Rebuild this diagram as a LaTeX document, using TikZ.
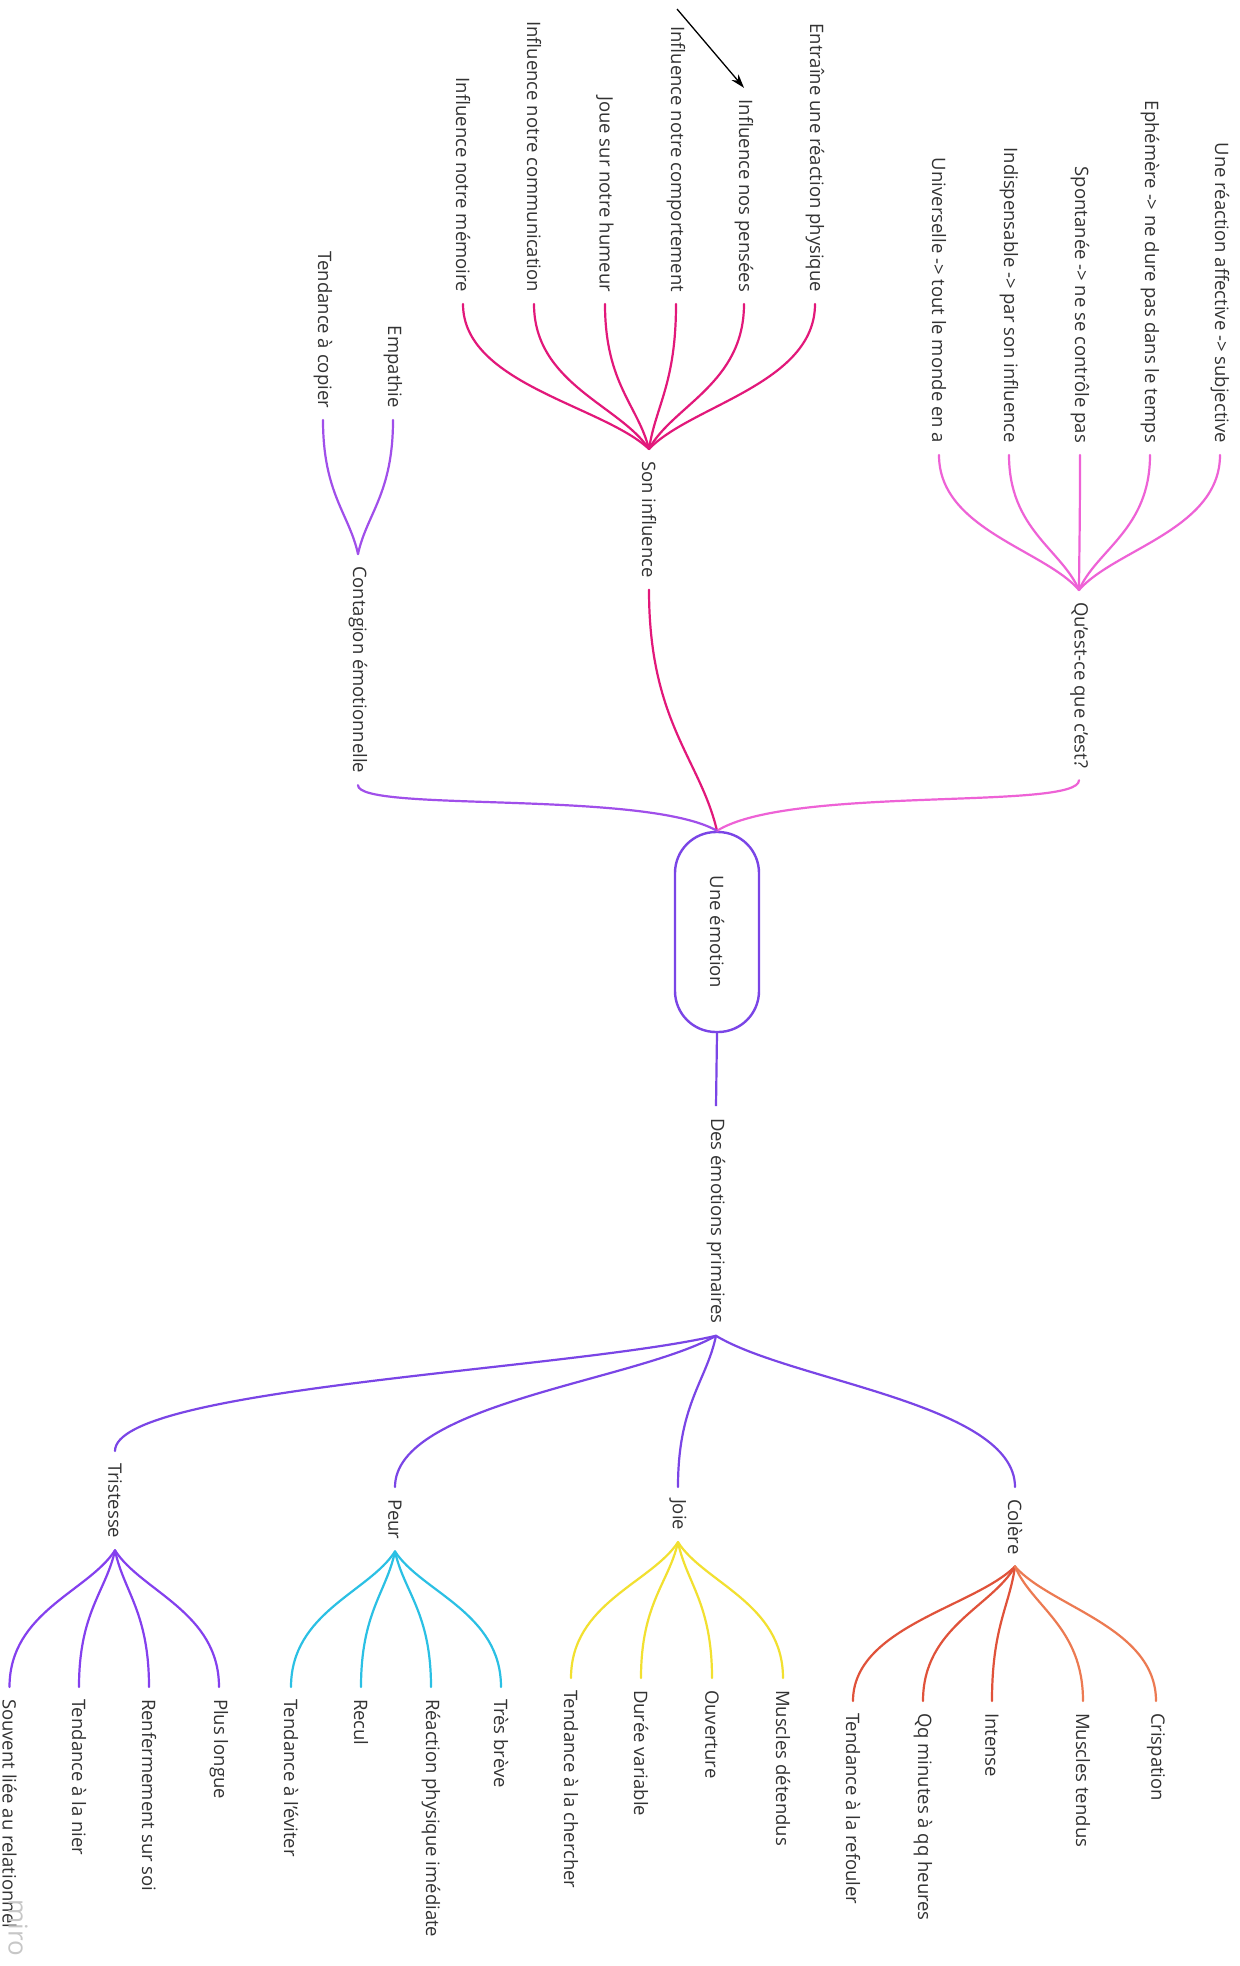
\documentclass[tikz,border=0pt]{standalone}
\usepackage{fontspec}
\setmainfont{Open Sans}
\usetikzlibrary{calc,arrows.meta}
\definecolor{cpurple}{HTML}{7A45E6}
\definecolor{ctris}{HTML}{8440EE}
\definecolor{ccrimson}{HTML}{E2187A}
\definecolor{cpink}{HTML}{EE62D6}
\definecolor{cviolet}{HTML}{A04FEA}
\definecolor{ccyan}{HTML}{2BC0E4}
\definecolor{cyellow}{HTML}{F2E030}
\definecolor{corange}{HTML}{E0523A}
\definecolor{corangeb}{HTML}{EC7A52}
\definecolor{ctext}{HTML}{333333}
\newcommand\myca{0.25}
\newcommand\mycb{0.3}
\newcommand\mycc{0.55}
\tikzset{
  ctrl/.code args={#1/#2/#3}{\def\myca{#1}\def\mycb{#2}\def\mycc{#3}},
  conn/.style={line width=2.2pt, line cap=round, ctrl=0.25/0.3/0.55,
    to path={let \p1=(\tikztostart), \p2=(\tikztotarget) in
      .. controls ({\x1+\myca*(\x2-\x1)},{\y1+\mycb*(\y2-\y1)}) and (\x2,{\y2-\mycc*(\y2-\y1)}) .. (\tikztotarget)}},
  txt/.style={rotate=-90, font=\fontsize{18.5}{22}\selectfont, text=ctext,
    inner xsep=0pt, inner ysep=1pt, outer xsep=12pt, outer ysep=0pt},
  up/.style={txt, anchor=east},
  down/.style={txt, anchor=west},
  rootbox/.style={rotate=-90, draw=cpurple, line width=2.4pt, fill=white,
    minimum width=200pt, minimum height=84pt, rounded corners=41pt, inner sep=0pt,
    font=\fontsize{18.5}{22}\selectfont, text=ctext},
}
\begin{document}
\begin{tikzpicture}[x=1pt,y=-1pt]
\useasboundingbox (0,0) rectangle (1240,1966);
\fill[white] (0,0) rectangle (1240,1966);

% root
\node[rootbox] (root) at (717,932) {Une émotion};

% main branch nodes
\node[down] (son) at (649,449) {Son influence};
\node[down] (quest) at (1079,590) {Qu'est-ce que c'est?};
\node[down] (cont) at (358,554) {Contagion émotionnelle};
\node[down] (des) at (716,1106) {Des émotions primaires};
\node[down] (trist) at (115,1451) {Tristesse};
\node[down] (peur) at (395,1487) {Peur};
\node[down] (joie) at (678,1487) {Joie};
\node[down] (colere) at (1015,1487) {Colère};

% Son influence children
\node[up] (s1) at (463,304) {Influence notre mémoire};
\node[up] (s2) at (534,304) {Influence notre communication};
\node[up] (s3) at (605,304) {Joue sur notre humeur};
\node[up] (s4) at (676,304) {Influence notre comportement};
\node[up] (s5) at (744,304) {Influence nos pensées};
\node[up] (s6) at (815,304) {Entraîne une réaction physique};

% Qu'est-ce children
\node[up] (q1) at (939,455) {Universelle -> tout le monde en a};
\node[up] (q2) at (1009,455) {Indispensable -> par son influence};
\node[up] (q3) at (1080,455) {Spontanée -> ne se contrôle pas};
\node[up] (q4) at (1150,455) {Ephémère -> ne dure pas dans le temps};
\node[up] (q5) at (1220,455) {Une réaction affective -> subjective};

% Contagion children
\node[up] (c1) at (323,420) {Tendance à copier};
\node[up] (c2) at (393,420) {Empathie};

% Tristesse children
\node[down] (t1) at (9.5,1687) {Souvent liée au relationnel};
\node[down] (t2) at (79,1687) {Tendance à la nier};
\node[down] (t3) at (149,1687) {Renfermement sur soi};
\node[down] (t4) at (219,1687) {Plus longue};

% Peur children
\node[down] (p1) at (291,1687) {Tendance à l'éviter};
\node[down] (p2) at (361,1687) {Recul};
\node[down] (p3) at (431,1687) {Réaction physique imédiate};
\node[down] (p4) at (501,1687) {Très brève};

% Joie children
\node[down] (j1) at (571,1678) {Tendance à la chercher};
\node[down] (j2) at (641,1678) {Durée variable};
\node[down] (j3) at (712,1678) {Ouverture};
\node[down] (j4) at (783,1678) {Muscles détendus};

% Colere children
\node[down] (k1) at (853,1701) {Tendance à la refouler};
\node[down] (k2) at (923,1701) {Qq minutes à qq heures};
\node[down] (k3) at (992,1701) {Intense};
\node[down] (k4) at (1083,1701) {Muscles tendus};
\node[down] (k5) at (1156,1701) {Crispation};

% watermark
\node[rotate=-90, font=\fontsize{26}{30}\selectfont, text=black!22, inner sep=0pt] (miro) at (18,1928) {miro};

% connectors from root
\draw[conn, ccrimson, ctrl=0.25/0.3/0.55] (root.west) to (son.east);
\draw[conn, cpink, ctrl=0.2/0.9/0.6] (root.west) to (quest.east);
\draw[conn, cviolet, ctrl=0.2/0.9/0.6] (root.west) to (cont.east);
\draw[cpurple, line width=2.2pt] (root.east) -- (des.west);

% fans
\foreach \c in {s1,s2,s3,s4,s5,s6} \draw[conn, ccrimson] (son.west) to (\c.east);
\foreach \c in {q1,q2,q3,q4,q5} \draw[conn, cpink] (quest.west) to (\c.east);
\foreach \c in {c1,c2} \draw[conn, cviolet] (cont.west) to (\c.east);
\foreach \c in {trist,peur,joie,colere} \draw[conn, cpurple] (des.east) to (\c.west);
\foreach \c in {t1,t2,t3,t4} \draw[conn, ctris] (trist.east) to (\c.west);
\foreach \c in {p1,p2,p3,p4} \draw[conn, ccyan] (peur.east) to (\c.west);
\foreach \c in {j1,j2,j3,j4} \draw[conn, cyellow] (joie.east) to (\c.west);
\draw[conn, corange] (colere.east) to (k1.west);
\draw[conn, corange] (colere.east) to (k2.west);
\draw[conn, corange] (colere.east) to (k3.west);
\draw[conn, corangeb] (colere.east) to (k4.west);
\draw[conn, corangeb] (colere.east) to (k5.west);

% arrow
\coordinate (astart) at (677,9);
\draw[-{Stealth[length=14pt,width=9pt]}, line width=1.3pt, black] (astart) -- (s5.west);
\end{tikzpicture}
\end{document}
